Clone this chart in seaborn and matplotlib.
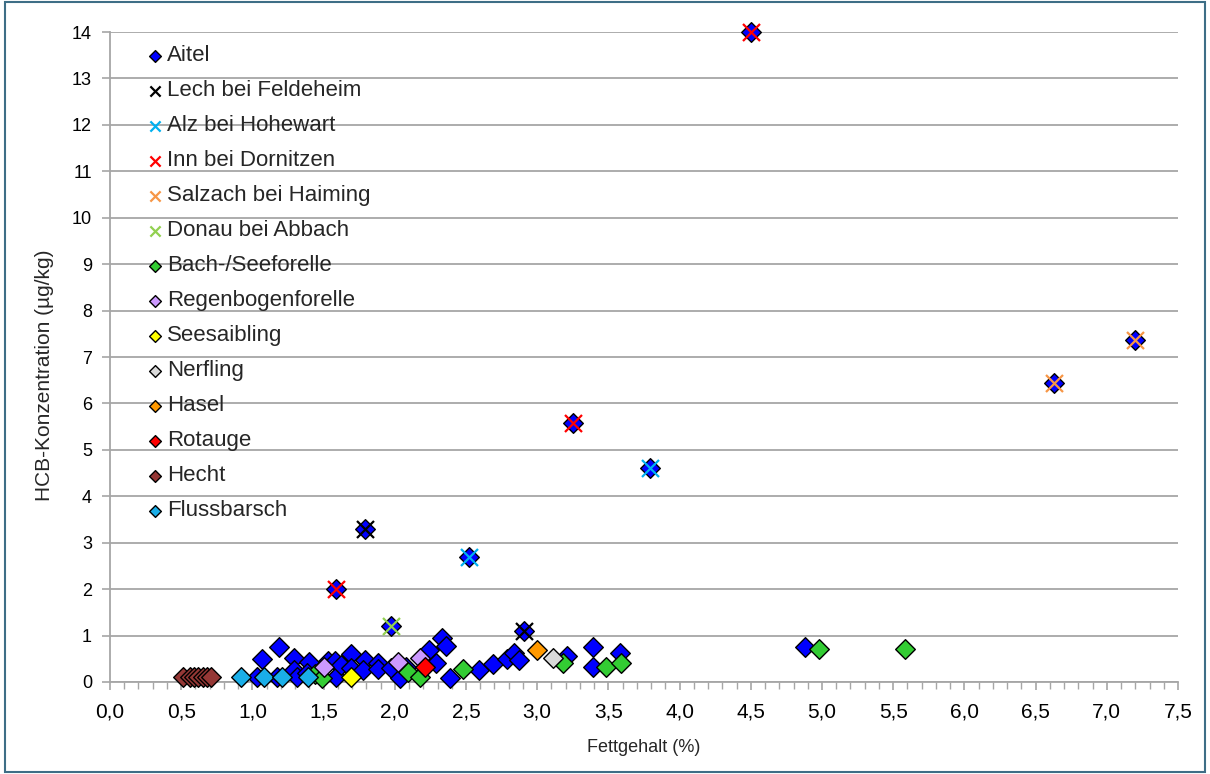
import matplotlib
matplotlib.use("Agg")
import matplotlib.pyplot as plt
from matplotlib.patches import Rectangle
from matplotlib.ticker import MultipleLocator, FuncFormatter
import seaborn as sns

# Fat content (%) and HCB concentration (µg/kg) per series
aitel_x = [4.50, 7.20, 6.63, 3.25, 3.79, 1.79, 2.52, 1.59, 1.97, 2.91,
           1.03, 1.07, 1.17, 1.19, 1.29, 1.29, 1.31, 1.40, 1.38, 1.53,
           1.58, 1.59, 1.62, 1.69, 1.69, 1.79, 1.78, 1.88, 1.88, 1.97,
           2.04, 2.08, 2.24, 2.29, 2.33, 2.36, 2.39, 2.59, 2.69, 2.79,
           2.84, 2.87, 3.21, 3.39, 3.39, 3.58, 4.88]
aitel_y = [14.0, 7.37, 6.45, 5.57, 4.60, 3.30, 2.70, 2.00, 1.20, 1.10,
           0.10, 0.49, 0.10, 0.76, 0.51, 0.26, 0.10, 0.44, 0.20, 0.46,
           0.45, 0.10, 0.37, 0.60, 0.30, 0.47, 0.26, 0.42, 0.28, 0.30,
           0.08, 0.32, 0.70, 0.42, 0.94, 0.78, 0.09, 0.25, 0.39, 0.49,
           0.62, 0.48, 0.56, 0.75, 0.32, 0.62, 0.75]

lech_x = [1.79, 2.91]
lech_y = [3.30, 1.10]
alz_x = [2.52, 3.79]
alz_y = [2.70, 4.60]
inn_x = [1.59, 3.25, 4.50]
inn_y = [2.00, 5.57, 14.0]
salzach_x = [6.63, 7.20]
salzach_y = [6.45, 7.37]
donau_x = [1.97]
donau_y = [1.20]

bach_x = [1.44, 1.49, 2.09, 2.18, 2.48, 3.18, 3.48, 3.59, 4.98, 5.58]
bach_y = [0.17, 0.09, 0.22, 0.10, 0.27, 0.42, 0.32, 0.42, 0.72, 0.72]
regenbogen_x = [1.50, 2.02, 2.18]
regenbogen_y = [0.33, 0.43, 0.52]
seesaibling_x = [1.69]
seesaibling_y = [0.10]
nerfling_x = [3.11]
nerfling_y = [0.52]
hasel_x = [3.00]
hasel_y = [0.70]
rotauge_x = [2.21]
rotauge_y = [0.32]
hecht_x = [0.51, 0.56, 0.59, 0.62, 0.65, 0.68, 0.71]
hecht_y = [0.10, 0.10, 0.10, 0.10, 0.10, 0.10, 0.10]
flussbarsch_x = [0.92, 1.08, 1.21, 1.39]
flussbarsch_y = [0.10, 0.10, 0.10, 0.10]

x_ticks = [0.0, 0.5, 1.0, 1.5, 2.0, 2.5, 3.0, 3.5, 4.0, 4.5, 5.0, 5.5, 6.0, 6.5, 7.0, 7.5]
y_ticks = list(range(0, 15))

series = [
    ("Aitel", aitel_x, aitel_y, "D", "#0000FF"),
    ("Lech bei Feldeheim", lech_x, lech_y, "x", "#000000"),
    ("Alz bei Hohewart", alz_x, alz_y, "x", "#00B0F0"),
    ("Inn bei Dornitzen", inn_x, inn_y, "x", "#FF0000"),
    ("Salzach bei Haiming", salzach_x, salzach_y, "x", "#F79646"),
    ("Donau bei Abbach", donau_x, donau_y, "x", "#92D050"),
    ("Bach-/Seeforelle", bach_x, bach_y, "D", "#33CC33"),
    ("Regenbogenforelle", regenbogen_x, regenbogen_y, "D", "#CC99FF"),
    ("Seesaibling", seesaibling_x, seesaibling_y, "D", "#FFFF00"),
    ("Nerfling", nerfling_x, nerfling_y, "D", "#D9D9D9"),
    ("Hasel", hasel_x, hasel_y, "D", "#FF9900"),
    ("Rotauge", rotauge_x, rotauge_y, "D", "#FF0000"),
    ("Hecht", hecht_x, hecht_y, "D", "#953735"),
    ("Flussbarsch", flussbarsch_x, flussbarsch_y, "D", "#1AAEE8"),
]

sns.set_theme(style="white")
plt.rcParams["font.family"] = ["Liberation Sans", "DejaVu Sans"]

fig = plt.figure(figsize=(12.1, 7.74), dpi=100)
ax = fig.add_axes([110 / 1210, 1 - 682 / 774, 1068 / 1210, 650 / 774])

for label, xs, ys, mk, col in series:
    if mk == "D":
        sns.scatterplot(x=xs, y=ys, ax=ax, marker="D", color=col, s=100,
                        edgecolor="black", linewidth=1.0, label=label,
                        zorder=3, clip_on=False)
    else:
        sns.scatterplot(x=xs, y=ys, ax=ax, marker="x", color=col, s=150,
                        linewidth=1.6, label=label, zorder=4, clip_on=False)

ax.set_xlim(0, 7.5)
ax.set_ylim(0, 14)
ax.set_xticks(x_ticks)
ax.set_yticks(y_ticks)
ax.xaxis.set_minor_locator(MultipleLocator(0.1))
ax.xaxis.set_major_formatter(FuncFormatter(lambda v, p: f"{v:.1f}".replace(".", ",")))

ax.grid(axis="y", color="#A6A6A6", linewidth=1.3)
ax.grid(axis="x", visible=False)
ax.set_axisbelow(True)
for side in ["top", "right"]:
    ax.spines[side].set_visible(False)
for side in ["left", "bottom"]:
    ax.spines[side].set_color("#A6A6A6")
    ax.spines[side].set_linewidth(1.3)

ax.tick_params(axis="both", which="major", direction="out", length=6, width=1.2,
               color="#A6A6A6", labelsize=13, labelcolor="black", pad=7,
               bottom=True, left=True)
ax.tick_params(axis="x", which="minor", direction="out", length=5, width=1.0,
               color="#A6A6A6", bottom=True)
ax.tick_params(axis="x", which="major", pad=9, labelsize=15)

ax.set_xlabel("Fettgehalt (%)", fontsize=13)
ax.set_ylabel("HCB-Konzentration (µg/kg)", fontsize=15)
ax.xaxis.set_label_coords(0.5, -(748 - 682) / 650, transform=ax.transAxes)
ax.yaxis.set_label_coords(-(110 - 45) / 1068, (682 - 375) / 650, transform=ax.transAxes)
ax.xaxis.label.set_va("center")
ax.yaxis.label.set_va("center")

leg = ax.legend(loc="upper left", bbox_to_anchor=(0.0245, 0.993), frameon=False,
                fontsize=16, labelspacing=0.63, handletextpad=0.1,
                handlelength=0.9, markerscale=0.6, borderaxespad=0)

fig.patches.append(Rectangle((0.004, 0.003), 0.992, 0.994, transform=fig.transFigure,
                             fill=False, edgecolor="#3E6E86", linewidth=1.5))

fig.savefig("out.png", dpi=100)
